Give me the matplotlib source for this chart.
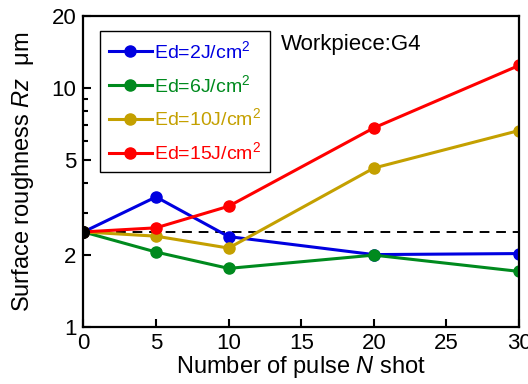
import matplotlib
matplotlib.use("Agg")
import matplotlib.pyplot as plt
from matplotlib.ticker import LogLocator, NullFormatter, FixedLocator, FixedFormatter

plt.rcParams['font.family'] = ['Liberation Sans', 'DejaVu Sans']
plt.rcParams['mathtext.fontset'] = 'custom'
plt.rcParams['mathtext.rm'] = 'Liberation Sans'
plt.rcParams['mathtext.it'] = 'Liberation Sans:italic'

# Rz vs number of pulses, one series per energy density
shots = [0, 5, 10, 20, 30]
rz_2j = [2.5, 3.5, 2.39, 2.01, 2.03]
rz_6j = [2.5, 2.06, 1.76, 2.0, 1.71]
rz_10j = [2.5, 2.4, 2.14, 4.62, 6.63]
rz_15j = [2.5, 2.6, 3.2, 6.8, 12.4]
rz_initial = 2.5

series = [
    ("Ed=2J/cm$^2$", rz_2j, "#0000e0"),
    ("Ed=6J/cm$^2$", rz_6j, "#008a1e"),
    ("Ed=10J/cm$^2$", rz_10j, "#c4a000"),
    ("Ed=15J/cm$^2$", rz_15j, "#ff0000"),
]

fig = plt.figure(figsize=(5.28, 3.84), dpi=100)
ax = fig.add_axes([0.158, 0.148, 0.825, 0.811])

ax.plot([0, 30], [rz_initial, rz_initial], color="black", lw=1.4,
        ls=(0, (5, 3.5)), zorder=1)

handles = []
for label, vals, col in series:
    h, = ax.plot(shots, vals, color=col, lw=2.2, marker="o", ms=8,
                 label=label, zorder=2)
    handles.append(h)

ax.plot([0], [rz_initial], "o", color="black", ms=8.5, zorder=3)

ax.set_yscale("log")
ax.set_xlim(0, 30)
ax.set_ylim(1, 20)
ax.xaxis.set_major_locator(FixedLocator([0, 5, 10, 15, 20, 25, 30]))
ax.yaxis.set_major_locator(FixedLocator([1, 2, 5, 10, 20]))
ax.yaxis.set_major_formatter(FixedFormatter(["1", "2", "5", "10", "20"]))
ax.yaxis.set_minor_locator(LogLocator(base=10, subs=range(2, 10)))
ax.yaxis.set_minor_formatter(NullFormatter())

ax.tick_params(axis="both", which="both", direction="in", labelsize=16,
               top=False, right=False, width=1.5)
ax.tick_params(axis="both", which="major", length=6)
ax.tick_params(axis="x", which="major", pad=4)
ax.tick_params(axis="y", which="major", pad=5)
ax.tick_params(axis="y", which="minor", length=3.5)
for sp in ax.spines.values():
    sp.set_linewidth(1.6)

ax.set_xlabel("Number of pulse $\\it{N}$ shot", fontsize=17, labelpad=0)
ax.set_ylabel("Surface roughness $\\it{Rz}$  \u03bcm", fontsize=17, labelpad=11)

ax.text(0.454, 0.909, "Workpiece:G4", transform=ax.transAxes, fontsize=16,
        ha="left", va="center")

leg = ax.legend(handles=handles, loc="upper left",
                bbox_to_anchor=(0.038, 0.951), fontsize=14, frameon=True,
                fancybox=False, edgecolor="black", framealpha=1,
                handlelength=2.2, handletextpad=0.15, labelspacing=0.62,
                borderpad=0.45, borderaxespad=0)
leg.get_frame().set_linewidth(1.0)
for txt, (_, _, col) in zip(leg.get_texts(), series):
    txt.set_color(col)

fig.savefig("out.png", dpi=100)
